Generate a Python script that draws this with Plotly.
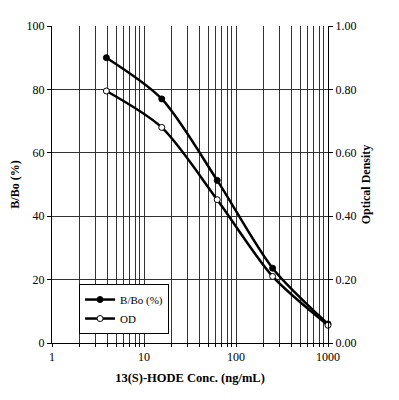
import plotly.graph_objects as go

conc = [3.9, 15.6, 62.5, 250, 1000]
bbo = [90, 77, 51.3, 23.6, 6.0]
od = [0.795, 0.68, 0.452, 0.21, 0.056]

x_tickvals = [1, 2, 3, 4, 5, 6, 7, 8, 9,
              10, 20, 30, 40, 50, 60, 70, 80, 90,
              100, 200, 300, 400, 500, 600, 700, 800, 900, 1000]
x_ticktext = ["1"] + [""] * 8 + ["10"] + [""] * 8 + ["100"] + [""] * 8 + ["1000"]
y_ticks = [0, 20, 40, 60, 80, 100]
y2_ticks = [0, 0.2, 0.4, 0.6, 0.8, 1.0]

FONT = "Liberation Serif"

fig = go.Figure()
fig.add_trace(go.Scatter(
    x=conc, y=bbo, name="B/Bo (%)", mode="lines+markers", cliponaxis=False,
    line=dict(color="black", width=2.5, shape="spline", smoothing=0.8),
    marker=dict(symbol="circle", size=6, color="black", line=dict(color="black", width=1)),
))
fig.add_trace(go.Scatter(
    x=conc, y=od, name="OD", mode="lines+markers", yaxis="y2", cliponaxis=False,
    line=dict(color="black", width=2.5, shape="spline", smoothing=0.8),
    marker=dict(symbol="circle", size=6, color="white", line=dict(color="black", width=1)),
))

fig.update_layout(
    width=399, height=400,
    margin=dict(l=44, r=79, t=18, b=65),
    paper_bgcolor="white", plot_bgcolor="white",
    font=dict(family=FONT, size=12, color="black"),
    showlegend=True,
    legend=dict(x=0.098, y=0.186, xanchor="left", yanchor="top",
                bgcolor="white", bordercolor="black", borderwidth=1,
                font=dict(family=FONT, size=11, color="black"),
                tracegroupgap=0, itemwidth=30),
    xaxis=dict(type="log", range=[0, 3], tickvals=x_tickvals, ticktext=x_ticktext,
               showgrid=True, gridcolor="#333", gridwidth=1,
               ticks="outside", ticklen=3, tickcolor="black",
               showline=True, linecolor="black", linewidth=1, automargin=False,
               title=dict(text="<b>13(S)-HODE Conc. (ng/mL)</b>", font=dict(family=FONT, size=12.5), standoff=9),
               zeroline=False),
    yaxis=dict(range=[0, 100], tickvals=y_ticks,
               showgrid=True, gridcolor="#333", gridwidth=1,
               ticks="outside", ticklen=4, tickcolor="black",
               showline=True, linecolor="black", linewidth=1, automargin=False,
               title=dict(text="<b>B/Bo (%)</b>", font=dict(family=FONT, size=12), standoff=9),
               zeroline=False),
    yaxis2=dict(range=[0, 1], tickvals=y2_ticks, tickformat=".2f",
                overlaying="y", side="right", showgrid=False,
                ticks="outside", ticklen=4, tickcolor="black",
                showline=True, linecolor="black", linewidth=1, automargin=False,
                title=dict(text="<b>Optical Density</b>", font=dict(family=FONT, size=12), standoff=6),
                zeroline=False),
)

fig.write_html("out.html")
